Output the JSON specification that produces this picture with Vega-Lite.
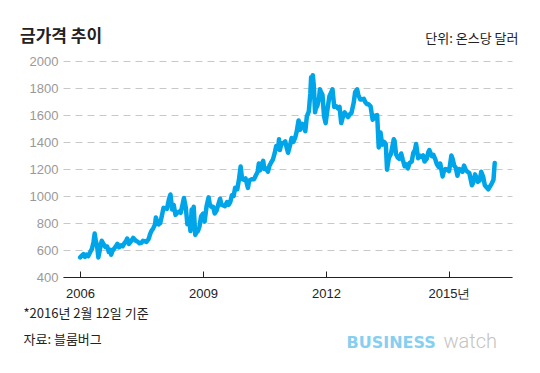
{
  "$schema": "https://vega.github.io/schema/vega-lite/v6.json",
  "width": 449,
  "height": 216,
  "autosize": {"type": "none"},
  "padding": {"left": 63, "top": 61, "right": 28, "bottom": 96},
  "background": "white",
  "title": {"text": "금가격 추이", "anchor": "start", "frame": "group", "dx": -43, "dy": 24, "font": "Noto Sans CJK KR", "fontSize": 17, "fontWeight": "bold", "color": "#222222", "offset": 10},
  "config": {"view": {"stroke": null}},
  "data": {"values": [
    {"date": "2006-01-03", "price": 545}, {"date": "2006-01-16", "price": 556}, {"date": "2006-02-01", "price": 569}, {"date": "2006-02-15", "price": 550},
    {"date": "2006-03-01", "price": 565}, {"date": "2006-03-15", "price": 554}, {"date": "2006-04-03", "price": 585}, {"date": "2006-04-18", "price": 610},
    {"date": "2006-05-02", "price": 660}, {"date": "2006-05-12", "price": 722}, {"date": "2006-05-22", "price": 668}, {"date": "2006-06-01", "price": 640},
    {"date": "2006-06-14", "price": 545}, {"date": "2006-06-30", "price": 614}, {"date": "2006-07-14", "price": 668}, {"date": "2006-08-01", "price": 640},
    {"date": "2006-08-15", "price": 623}, {"date": "2006-09-01", "price": 626}, {"date": "2006-09-15", "price": 585}, {"date": "2006-10-02", "price": 600},
    {"date": "2006-10-06", "price": 565}, {"date": "2006-10-16", "price": 590}, {"date": "2006-11-01", "price": 610}, {"date": "2006-11-15", "price": 625},
    {"date": "2006-12-01", "price": 646}, {"date": "2006-12-15", "price": 620},
    {"date": "2007-01-02", "price": 635}, {"date": "2007-01-16", "price": 628}, {"date": "2007-02-01", "price": 650}, {"date": "2007-02-15", "price": 665},
    {"date": "2007-02-26", "price": 685}, {"date": "2007-03-14", "price": 645}, {"date": "2007-04-02", "price": 665}, {"date": "2007-04-20", "price": 690},
    {"date": "2007-05-01", "price": 680}, {"date": "2007-05-15", "price": 668}, {"date": "2007-06-01", "price": 660}, {"date": "2007-06-15", "price": 650},
    {"date": "2007-07-02", "price": 653}, {"date": "2007-07-16", "price": 668}, {"date": "2007-08-01", "price": 665}, {"date": "2007-08-16", "price": 660},
    {"date": "2007-09-04", "price": 680}, {"date": "2007-09-17", "price": 715}, {"date": "2007-10-01", "price": 743}, {"date": "2007-10-15", "price": 760},
    {"date": "2007-11-01", "price": 790}, {"date": "2007-11-08", "price": 841}, {"date": "2007-11-20", "price": 805}, {"date": "2007-12-03", "price": 790},
    {"date": "2007-12-17", "price": 800},
    {"date": "2008-01-02", "price": 860}, {"date": "2008-01-15", "price": 912}, {"date": "2008-02-01", "price": 910}, {"date": "2008-02-15", "price": 905},
    {"date": "2008-03-03", "price": 975}, {"date": "2008-03-17", "price": 1011}, {"date": "2008-04-01", "price": 900}, {"date": "2008-04-15", "price": 935},
    {"date": "2008-05-01", "price": 860}, {"date": "2008-05-15", "price": 875}, {"date": "2008-06-02", "price": 885}, {"date": "2008-06-16", "price": 875},
    {"date": "2008-07-01", "price": 930}, {"date": "2008-07-15", "price": 985}, {"date": "2008-08-01", "price": 912}, {"date": "2008-08-15", "price": 790},
    {"date": "2008-09-01", "price": 830}, {"date": "2008-09-11", "price": 740}, {"date": "2008-09-22", "price": 900}, {"date": "2008-10-01", "price": 880},
    {"date": "2008-10-10", "price": 920}, {"date": "2008-10-24", "price": 712}, {"date": "2008-11-03", "price": 730}, {"date": "2008-11-17", "price": 740},
    {"date": "2008-12-01", "price": 775}, {"date": "2008-12-15", "price": 850},
    {"date": "2009-01-02", "price": 870}, {"date": "2009-01-15", "price": 810}, {"date": "2009-02-02", "price": 925}, {"date": "2009-02-20", "price": 990},
    {"date": "2009-03-02", "price": 940}, {"date": "2009-03-16", "price": 920}, {"date": "2009-04-01", "price": 920}, {"date": "2009-04-15", "price": 870},
    {"date": "2009-05-01", "price": 890}, {"date": "2009-05-15", "price": 930}, {"date": "2009-06-02", "price": 980}, {"date": "2009-06-15", "price": 935},
    {"date": "2009-07-01", "price": 930}, {"date": "2009-07-15", "price": 925}, {"date": "2009-08-03", "price": 955}, {"date": "2009-08-17", "price": 935},
    {"date": "2009-09-01", "price": 955}, {"date": "2009-09-15", "price": 1005}, {"date": "2009-10-01", "price": 1000}, {"date": "2009-10-14", "price": 1060},
    {"date": "2009-11-02", "price": 1050}, {"date": "2009-11-16", "price": 1115}, {"date": "2009-12-02", "price": 1218}, {"date": "2009-12-15", "price": 1125},
    {"date": "2010-01-04", "price": 1120}, {"date": "2010-01-15", "price": 1130}, {"date": "2010-02-05", "price": 1060}, {"date": "2010-02-16", "price": 1115},
    {"date": "2010-03-01", "price": 1120}, {"date": "2010-03-15", "price": 1125}, {"date": "2010-04-01", "price": 1125}, {"date": "2010-04-15", "price": 1150},
    {"date": "2010-05-03", "price": 1180}, {"date": "2010-05-13", "price": 1240}, {"date": "2010-05-24", "price": 1190}, {"date": "2010-06-01", "price": 1220},
    {"date": "2010-06-21", "price": 1260}, {"date": "2010-07-01", "price": 1200}, {"date": "2010-07-15", "price": 1205}, {"date": "2010-08-02", "price": 1180},
    {"date": "2010-08-16", "price": 1225}, {"date": "2010-09-01", "price": 1250}, {"date": "2010-09-15", "price": 1270}, {"date": "2010-10-01", "price": 1315},
    {"date": "2010-10-15", "price": 1370}, {"date": "2010-11-01", "price": 1350}, {"date": "2010-11-09", "price": 1420}, {"date": "2010-11-16", "price": 1340},
    {"date": "2010-12-01", "price": 1390}, {"date": "2010-12-15", "price": 1390},
    {"date": "2011-01-03", "price": 1405}, {"date": "2011-01-14", "price": 1365}, {"date": "2011-01-28", "price": 1320}, {"date": "2011-02-15", "price": 1375},
    {"date": "2011-03-01", "price": 1430}, {"date": "2011-03-15", "price": 1400}, {"date": "2011-04-01", "price": 1430}, {"date": "2011-04-15", "price": 1475},
    {"date": "2011-05-02", "price": 1560}, {"date": "2011-05-16", "price": 1490}, {"date": "2011-06-01", "price": 1535}, {"date": "2011-06-15", "price": 1530},
    {"date": "2011-07-01", "price": 1480}, {"date": "2011-07-15", "price": 1590}, {"date": "2011-08-01", "price": 1625}, {"date": "2011-08-15", "price": 1760},
    {"date": "2011-08-22", "price": 1880}, {"date": "2011-09-01", "price": 1830}, {"date": "2011-09-06", "price": 1895}, {"date": "2011-09-15", "price": 1815},
    {"date": "2011-09-26", "price": 1620}, {"date": "2011-10-03", "price": 1650}, {"date": "2011-10-17", "price": 1670}, {"date": "2011-11-01", "price": 1730},
    {"date": "2011-11-08", "price": 1790}, {"date": "2011-11-15", "price": 1775}, {"date": "2011-12-01", "price": 1750}, {"date": "2011-12-15", "price": 1590},
    {"date": "2011-12-29", "price": 1540},
    {"date": "2012-01-16", "price": 1650}, {"date": "2012-02-01", "price": 1740}, {"date": "2012-02-28", "price": 1790}, {"date": "2012-03-15", "price": 1660},
    {"date": "2012-04-02", "price": 1665}, {"date": "2012-04-16", "price": 1650}, {"date": "2012-05-01", "price": 1660}, {"date": "2012-05-16", "price": 1540},
    {"date": "2012-06-01", "price": 1590}, {"date": "2012-06-15", "price": 1620}, {"date": "2012-07-02", "price": 1600}, {"date": "2012-07-16", "price": 1585},
    {"date": "2012-08-01", "price": 1605}, {"date": "2012-08-15", "price": 1615}, {"date": "2012-09-04", "price": 1690}, {"date": "2012-09-17", "price": 1770},
    {"date": "2012-10-05", "price": 1790}, {"date": "2012-10-15", "price": 1750}, {"date": "2012-11-01", "price": 1715}, {"date": "2012-11-15", "price": 1715},
    {"date": "2012-12-03", "price": 1720}, {"date": "2012-12-17", "price": 1695},
    {"date": "2013-01-02", "price": 1680}, {"date": "2013-01-15", "price": 1680}, {"date": "2013-02-01", "price": 1665}, {"date": "2013-02-20", "price": 1565},
    {"date": "2013-03-01", "price": 1575}, {"date": "2013-03-15", "price": 1595}, {"date": "2013-04-01", "price": 1600}, {"date": "2013-04-15", "price": 1360},
    {"date": "2013-05-01", "price": 1470}, {"date": "2013-05-16", "price": 1380}, {"date": "2013-06-03", "price": 1400}, {"date": "2013-06-17", "price": 1385},
    {"date": "2013-06-28", "price": 1195}, {"date": "2013-07-15", "price": 1285}, {"date": "2013-08-01", "price": 1310}, {"date": "2013-08-27", "price": 1420},
    {"date": "2013-09-03", "price": 1410}, {"date": "2013-09-16", "price": 1310}, {"date": "2013-10-01", "price": 1285}, {"date": "2013-10-15", "price": 1275},
    {"date": "2013-11-01", "price": 1315}, {"date": "2013-11-15", "price": 1270}, {"date": "2013-12-02", "price": 1220}, {"date": "2013-12-16", "price": 1235},
    {"date": "2013-12-31", "price": 1205},
    {"date": "2014-01-15", "price": 1245}, {"date": "2014-02-03", "price": 1255}, {"date": "2014-02-17", "price": 1320}, {"date": "2014-03-03", "price": 1340},
    {"date": "2014-03-14", "price": 1385}, {"date": "2014-04-01", "price": 1280}, {"date": "2014-04-15", "price": 1300}, {"date": "2014-05-01", "price": 1290},
    {"date": "2014-05-15", "price": 1300}, {"date": "2014-05-28", "price": 1255}, {"date": "2014-06-16", "price": 1275}, {"date": "2014-07-01", "price": 1325},
    {"date": "2014-07-10", "price": 1340}, {"date": "2014-08-01", "price": 1295}, {"date": "2014-08-15", "price": 1305}, {"date": "2014-09-02", "price": 1270},
    {"date": "2014-09-15", "price": 1235}, {"date": "2014-10-01", "price": 1215}, {"date": "2014-10-15", "price": 1240}, {"date": "2014-11-05", "price": 1145},
    {"date": "2014-11-17", "price": 1185}, {"date": "2014-12-01", "price": 1200}, {"date": "2014-12-15", "price": 1195},
    {"date": "2015-01-02", "price": 1185}, {"date": "2015-01-22", "price": 1300}, {"date": "2015-02-02", "price": 1275}, {"date": "2015-02-16", "price": 1225},
    {"date": "2015-03-02", "price": 1210}, {"date": "2015-03-17", "price": 1150}, {"date": "2015-04-01", "price": 1200}, {"date": "2015-04-15", "price": 1195},
    {"date": "2015-05-01", "price": 1180}, {"date": "2015-05-15", "price": 1225}, {"date": "2015-06-01", "price": 1190}, {"date": "2015-06-15", "price": 1180},
    {"date": "2015-07-01", "price": 1170}, {"date": "2015-07-24", "price": 1080}, {"date": "2015-08-03", "price": 1095}, {"date": "2015-08-21", "price": 1160},
    {"date": "2015-09-01", "price": 1140}, {"date": "2015-09-15", "price": 1105}, {"date": "2015-10-01", "price": 1115}, {"date": "2015-10-15", "price": 1180},
    {"date": "2015-11-02", "price": 1140}, {"date": "2015-11-16", "price": 1080}, {"date": "2015-12-01", "price": 1065}, {"date": "2015-12-17", "price": 1050},
    {"date": "2016-01-04", "price": 1075}, {"date": "2016-01-15", "price": 1090}, {"date": "2016-02-01", "price": 1120}, {"date": "2016-02-12", "price": 1245}
  ]},
  "layer": [
    {
      "mark": {"type": "line", "color": "#00a5e9", "strokeWidth": 4.5, "strokeJoin": "round", "strokeCap": "round"},
      "encoding": {
        "x": {
          "field": "date", "type": "temporal",
          "scale": {"domain": [{"year": 2005, "month": 8, "date": 3}, {"year": 2016, "month": 7, "date": 15}]},
          "axis": {
            "orient": "bottom",
            "values": [{"year": 2006, "month": 1, "date": 1}, {"year": 2009, "month": 1, "date": 1}, {"year": 2012, "month": 1, "date": 1}, {"year": 2015, "month": 1, "date": 1}],
            "format": "%Y", "labelExpr": "datum.label == '2015' ? '2015년' : datum.label",
            "grid": false, "domainColor": "#222222", "domainWidth": 1.2, "tickColor": "#222222", "tickSize": -6, "tickWidth": 1,
            "labelFont": "Liberation Sans", "labelFontSize": 13, "labelColor": "#222222", "labelPadding": 16, "labelFlush": false,
            "title": ["*2016년 2월 12일 기준", "자료: 블룸버그"],
            "titleFont": "Noto Sans CJK KR", "titleFontSize": 13, "titleFontWeight": "normal", "titleColor": "#222222",
            "titleAlign": "left", "titleAnchor": "start", "titleBaseline": "alphabetic", "titleX": -40, "titleY": 40, "titleLineHeight": 26
          }
        },
        "y": {
          "field": "price", "type": "quantitative",
          "scale": {"domain": [400, 2000], "nice": false, "zero": false},
          "axis": {
            "orient": "left",
            "values": [400, 600, 800, 1000, 1200, 1400, 1600, 1800, 2000], "format": "d",
            "grid": true, "gridColor": "#c8c8c8", "gridDash": [7, 5], "gridWidth": 1,
            "domain": false, "ticks": false, "labelPadding": 5,
            "labelFont": "Liberation Sans", "labelFontSize": 13, "labelColor": "#999999",
            "title": "단위: 온스당 달러", "titleAngle": 0, "titleAlign": "right", "titleBaseline": "alphabetic",
            "titleX": 455, "titleY": -19, "titleFont": "Noto Sans CJK KR", "titleFontSize": 13, "titleFontWeight": "normal", "titleColor": "#222222"
          }
        }
      }
    },
    {
      "data": {"values": [{"date": "2010-01-01", "price": 1000}]},
      "mark": {"type": "point", "opacity": 0},
      "encoding": {
        "x": {
          "field": "date", "type": "temporal",
          "axis": {"orient": "bottom", "labels": false, "ticks": false, "domain": false, "grid": false,
            "title": "BUSINESS", "titleFont": "DejaVu Sans", "titleFontSize": 16, "titleFontWeight": "bold", "titleColor": "#86cff0",
            "titleAlign": "left", "titleAnchor": "start", "titleBaseline": "alphabetic", "titleX": 283, "titleY": 70}
        },
        "y": {
          "field": "price", "type": "quantitative",
          "axis": {"orient": "right", "labels": false, "ticks": false, "domain": false, "grid": false,
            "title": "watch", "titleAngle": 0, "titleFont": "Roboto", "titleFontSize": 20, "titleFontWeight": 300, "titleColor": "#c4c4c4",
            "titleAlign": "left", "titleBaseline": "alphabetic", "titleX": -69, "titleY": 286}
        }
      }
    }
  ],
  "resolve": {"axis": {"x": "independent", "y": "independent"}}
}
